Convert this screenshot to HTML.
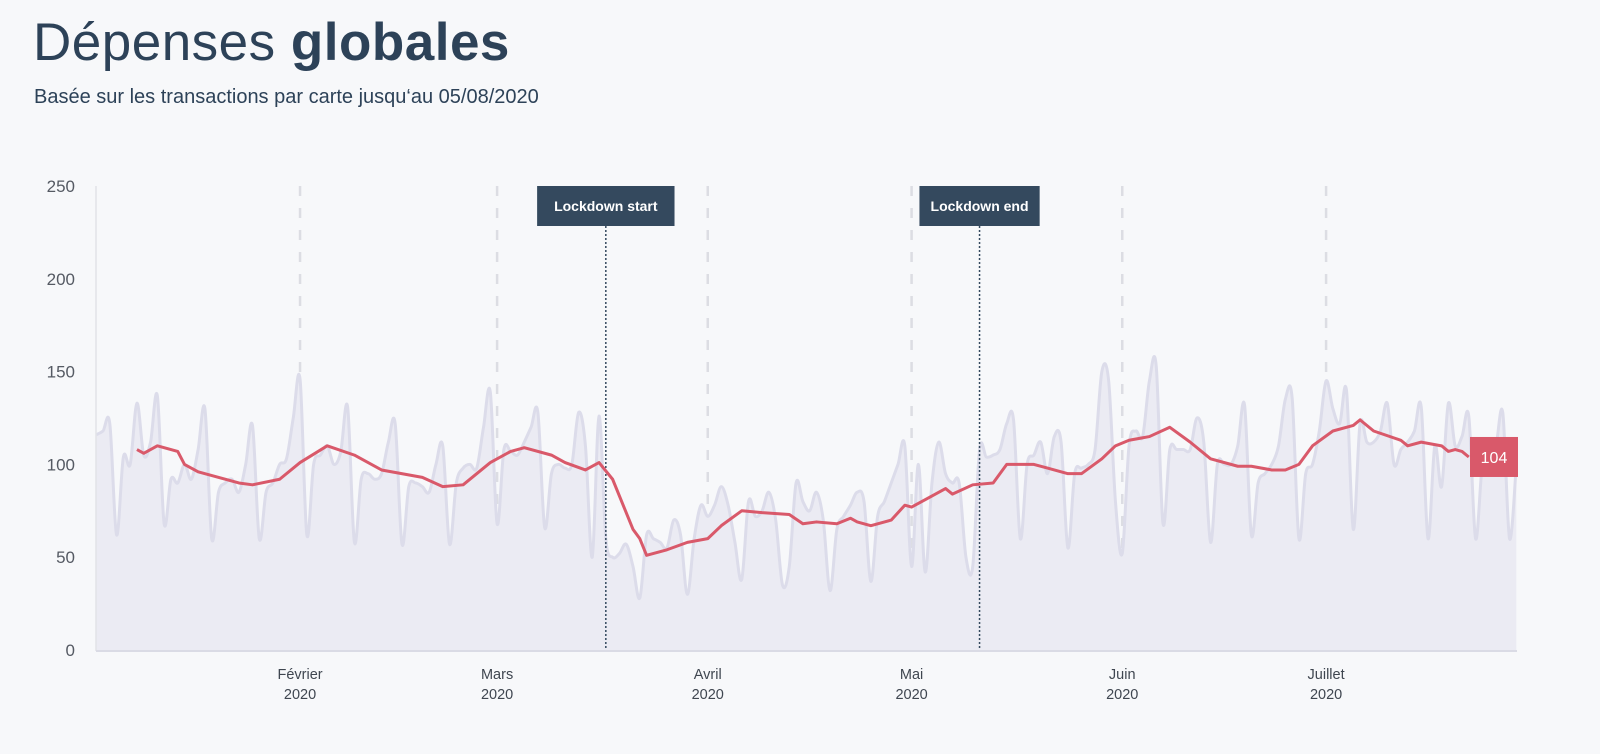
<!DOCTYPE html>
<html><head><meta charset="utf-8">
<style>
html,body{margin:0;padding:0;background:#f7f8fa;}
body{width:1600px;height:754px;position:relative;overflow:hidden;font-family:"Liberation Sans",sans-serif;}
h1{position:absolute;left:33px;top:12px;margin:0;font-size:53px;font-weight:300;color:#2d4258;letter-spacing:0.5px;}
h1 b{font-weight:700;}
.sub{position:absolute;left:34px;top:86px;font-size:20px;color:#2d4258;}
svg{position:absolute;left:0;top:0;}
</style></head>
<body>
<h1>Dépenses <b>globales</b></h1>
<div class="sub">Basée sur les transactions par carte jusqu‘au 05/08/2020</div>
<svg id="chart" width="1600" height="754"></svg>
<script>
const yTicks=[0,50,100,150,200,250];
const monthLabels=["Février","Mars","Avril","Mai","Juin","Juillet"];
const monthDays=[31,60,91,121,152,182];
const rawStartDay=1;
const rawValues=[116,118,122,62,104,100,133,105,112,137,68,92,90,100,92,108,130,60,85,90,92,85,100,121,60,85,90,100,103,125,146,62,100,105,110,100,107,131,58,92,95,92,95,112,122,57,88,90,88,85,100,110,57,90,98,100,98,120,139,68,108,107,105,112,120,128,66,95,100,98,100,128,110,50,126,60,50,52,57,45,28,62,60,58,55,70,62,30,60,78,72,78,88,78,58,38,80,72,75,85,70,35,45,90,80,75,85,70,32,65,72,78,85,80,37,72,80,90,100,110,45,100,42,90,112,95,90,90,50,45,108,104,105,108,122,124,60,100,105,112,95,115,112,55,95,98,100,108,150,145,80,52,110,118,115,145,153,68,108,108,108,108,125,112,58,100,100,100,110,132,62,90,95,100,110,135,136,60,95,100,118,145,130,122,140,65,122,112,112,118,133,100,108,112,118,131,60,110,88,133,110,115,126,60,100,104,110,128,60,100];
const maDays=[7,8,10,13,14,16,22,24,28,31,35,39,43,49,52,55,59,62,64,68,70,73,75,77,80,81,82,85,88,91,93,96,99,103,105,107,110,112,113,115,118,120,121,123,126,127,130,133,135,139,141,144,146,149,151,153,156,159,162,165,169,171,174,176,178,180,183,186,187,189,193,194,196,199,200,201,202,203];
const maValues=[108,106,110,107,100,96,90,89,92,101,110,105,97,93,88,89,101,107,109,105,101,97,101,92,65,60,51,54,58,60,67,75,74,73,68,69,68,71,69,67,70,78,77,81,87,84,89,90,100,100,98,95,95,103,110,113,115,120,112,103,99,99,97,97,100,110,118,121,124,118,113,110,112,110,107,108,107,104];
const events=[{day:76,label:"Lockdown start"},{day:131,label:"Lockdown end"}];
const lastLabel="104";

const NS="http://www.w3.org/2000/svg";
const svg=document.getElementById('chart');
const X0=89.4,DX=6.795,Y0=650,KY=1.856;
const xs=d=>X0+d*DX, ys=v=>Y0-v*KY;
function mk(t,a,p){const e=document.createElementNS(NS,t);for(const k in a)e.setAttribute(k,a[k]);(p||svg).appendChild(e);return e;}
function smooth(pts){let d=`M${pts[0][0]},${pts[0][1]}`;for(let i=0;i<pts.length-1;i++){const p0=pts[Math.max(0,i-1)],p1=pts[i],p2=pts[i+1],p3=pts[Math.min(pts.length-1,i+2)];const c1=[p1[0]+(p2[0]-p0[0])/6,p1[1]+(p2[1]-p0[1])/6],c2=[p2[0]-(p3[0]-p1[0])/6,p2[1]-(p3[1]-p1[1])/6];d+=`C${c1[0]},${c1[1]} ${c2[0]},${c2[1]} ${p2[0]},${p2[1]}`;}return d;}

yTicks.forEach(v=>{const t=mk('text',{x:75,y:ys(v)+6,'text-anchor':'end','font-size':17,fill:'#555a63'});t.textContent=v;

});
monthDays.forEach((d,i)=>{const l=mk('line',{x1:xs(d),x2:xs(d),y1:186,y2:650,stroke:'#dcdde3','stroke-width':2.5,'stroke-dasharray':'10 12'});


const t=mk('text',{x:xs(d),y:679,'text-anchor':'middle','font-size':14.5,fill:'#3f4650'});


const a=mk('tspan',{x:xs(d),dy:0},t);a.textContent=monthLabels[i];const b=mk('tspan',{x:xs(d),dy:20},t);b.textContent='2020';});
const rp=rawValues.map((v,i)=>[xs(rawStartDay+i),ys(v)]);
const line=smooth(rp);
const area=mk('path',{d:line+`L${rp[rp.length-1][0]},${Y0}L${rp[0][0]},${Y0}Z`,fill:'#ebebf3'});


const rl=mk('path',{d:line,fill:'none',stroke:'#dcdcea','stroke-width':3});


const ax=mk('line',{x1:96,x2:96,y1:186,y2:651,stroke:'#e2e3e8','stroke-width':1.5});


const bx=mk('line',{x1:96,x2:1517,y1:651,y2:651,stroke:'#dadbe5','stroke-width':2});


events.forEach(e=>{const x=xs(e.day);
const l=mk('line',{x1:x,x2:x,y1:226,y2:650,stroke:'#34495e','stroke-width':1.5,'stroke-dasharray':'2 2'});


const w=e.label.length*8.6+14;
const g=mk('g',{});


mk('rect',{x:x-w/2-1.5,y:186,width:w+3,height:40,fill:'#34495e'},g);
const t=mk('text',{x:x,y:211,'text-anchor':'middle','font-size':14,'font-weight':'bold',fill:'#fff'},g);t.textContent=e.label;});
const mp=maDays.map((d,i)=>[xs(d),ys(maValues[i])]);
const ml=mk('path',{d:mp.map((p,i)=>(i?'L':'M')+p[0]+','+p[1]).join(''),fill:'none',stroke:'#d9596a','stroke-width':3,'stroke-linejoin':'round'});


const lp=mp[mp.length-1];
const lg=mk('g',{});


mk('rect',{x:1470,y:lp[1]-20,width:48,height:40,fill:'#d9596a'},lg);
const lt=mk('text',{x:1494,y:lp[1]+6,'text-anchor':'middle','font-size':16,fill:'#fff'},lg);lt.textContent=lastLabel;
</script>
</body></html>
